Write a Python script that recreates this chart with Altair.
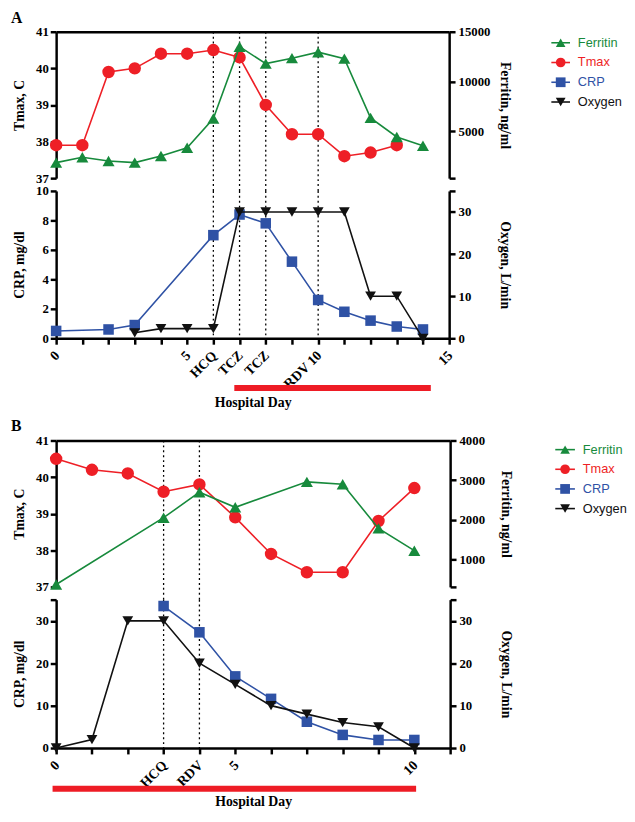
import altair as alt
import pandas as pd

# ---------------- Panel A data ----------------
A_TMAX_DAY = list(range(14))
A_TMAX = [37.9, 37.9, 39.9, 40.0, 40.4, 40.4, 40.5, 40.3, 39.0, 38.2, 38.2, 37.6, 37.7, 37.9]
A_FERR_DAY = list(range(15))
A_FERR = [1860, 2400, 2030, 1860, 2520, 3350, 6290, 13500, 11800, 12350, 12950, 12300, 6350, 4440, 3550]
A_CRP_DAY = [0, 2, 3, 6, 7, 8, 9, 10, 11, 12, 13, 14]
A_CRP = [0.5, 0.6, 0.9, 7.0, 8.4, 7.8, 5.2, 2.6, 1.8, 1.2, 0.8, 0.6]
A_OXY_DAY = list(range(3, 15))
A_OXY = [1.3, 2.3, 2.3, 2.3, 30, 30, 30, 30, 30, 10, 10, 0]
A_EVENTS = [6, 7, 8, 10]
A_HOSP = [6.8, 14.3]
A_XTICKS = list(range(16))
A_XLABEL_AT = [0, 5, 6, 7, 8, 10, 15]
A_XLABELS = ['0', '5', 'HCQ', 'TCZ', 'TCZ', 'RDV 10', '15']
A_FERR_DOMAIN = [300, 15000]
A_FERR_TICKS = [300, 5000, 10000, 15000]
A_FERR_HIDDEN = [300]
A_CRP_DOMAIN = [0, 10]
A_CRP_TICKS = [0, 2, 4, 6, 8, 10]
A_OXY_DOMAIN = [0, 35]
A_OXY_TICKS = [0, 10, 20, 30, 35]
A_OXY_HIDDEN = [35]

# ---------------- Panel B data ----------------
B_TMAX_DAY = list(range(11))
B_TMAX = [40.5, 40.2, 40.1, 39.6, 39.8, 38.9, 37.9, 37.4, 37.4, 38.8, 39.7]
B_FERR_DAY = [0, 3, 4, 5, 7, 8, 9, 10]
B_FERR = [380, 2060, 2700, 2320, 2960, 2900, 1790, 1230]
B_CRP_DAY = [3, 4, 5, 6, 7, 8, 9, 10]
B_CRP = [33.5, 27.3, 16.9, 11.6, 6.2, 3.1, 1.9, 1.9]
B_OXY_DAY = list(range(11))
B_OXY = [0, 2, 30, 30, 20, 15, 10, 8, 6, 5, 0]
B_EVENTS = [3, 4]
B_HOSP = [-0.1, 10.05]
B_XTICKS = list(range(12))
B_XLABEL_AT = [0, 3, 4, 5, 10]
B_XLABELS = ['0', 'HCQ', 'RDV', '5', '10']
B_FERR_DOMAIN = [320, 4000]
B_FERR_TICKS = [320, 1000, 2000, 3000, 4000]
B_FERR_HIDDEN = [320]
B_CRP_DOMAIN = [0, 35]
B_CRP_TICKS = [0, 10, 20, 30, 35]
B_CRP_HIDDEN = [35]
B_OXY_DOMAIN = [0, 35]
B_OXY_TICKS = [0, 10, 20, 30, 35]
B_OXY_HIDDEN = [35]

TMAX_DOMAIN = [37, 41]
TMAX_TICKS = [37, 38, 39, 40, 41]

SERIES = ['Ferritin', 'Tmax', 'CRP', 'Oxygen']
COLORS = ['#178a3c', '#ee1f26', '#2f52a5', '#111111']
SHAPES = ['triangle-up', 'circle', 'square', 'triangle-down']
LEGEND_SIZES = [95, 100, 80, 90]
RED_BAR = '#ee1c25'
SERIF = 'Liberation Serif'
SANS = 'Liberation Sans'

CSCALE = alt.Scale(domain=SERIES, range=COLORS)
SSCALE = alt.Scale(domain=SERIES, range=SHAPES)
ZSCALE = alt.Scale(domain=SERIES, range=LEGEND_SIZES)
GAP = 13


def hidden_expr(hidden):
    if not hidden:
        return "datum.label"
    arr = ",".join(str(v) for v in hidden)
    return f"indexof([{arr}], datum.value) >= 0 ? '' : datum.label"


def label_expr(ats, texts):
    expr = "''"
    for v, t in zip(reversed(ats), reversed(texts)):
        expr = f"datum.value == {v} ? '{t}' : ({expr})"
    return expr


def y_axis(orient, title, values, hidden, title_x):
    return alt.Axis(orient=orient, title=title, values=values, format='d',
                    labelExpr=hidden_expr(hidden), titleX=title_x, titleBaseline='middle',
                    titleAngle=270 if orient == 'left' else 90,
                    labelPadding=2 if orient == 'left' else 3)


def series_df(days, vals, name):
    return pd.DataFrame({'day': days, 'value': vals, 'series': name})


def series_layers(df, xenc, yenc, shape, size):
    color = alt.Color('series:N', scale=CSCALE, legend=None)
    line = alt.Chart(df).mark_line(strokeWidth=1.6).encode(x=xenc, y=yenc, color=color)
    pts = alt.Chart(df).mark_point(filled=True, opacity=1, shape=shape, size=size).encode(
        x=xenc, y=yenc, color=color)
    return alt.layer(line, pts)


def legend_layers(x0, x1, tx, y_range):
    df = pd.DataFrame({'series': SERIES})
    ly = alt.Y('series:N', scale=alt.Scale(type='point', domain=SERIES, range=y_range, padding=0),
               axis=None)
    color = alt.Color('series:N', scale=CSCALE, legend=None)
    line = alt.Chart(df).mark_rule(strokeWidth=1.6).encode(
        x=alt.value(x0), x2=alt.value(x1), y=ly, color=color)
    pts = alt.Chart(df).mark_point(filled=True, opacity=1).encode(
        x=alt.value((x0 + x1) / 2), y=ly, color=color,
        shape=alt.Shape('series:N', scale=SSCALE, legend=None),
        size=alt.Size('series:N', scale=ZSCALE, legend=None))
    txt = alt.Chart(df).mark_text(align='left', baseline='middle', font=SANS, fontSize=13).encode(
        x=alt.value(tx), y=ly, text='series:N', color=color)
    return alt.layer(line, pts, txt)


def panel_letter(letter, y):
    return alt.Chart(pd.DataFrame({'t': [letter]})).mark_text(
        align='left', baseline='alphabetic', font=SERIF, fontSize=16, fontWeight='bold',
        color='black').encode(x=alt.value(-46), y=alt.value(y), text='t:N')


def top_panel(letter, letter_y, tday, tmax, fday, ferr, fdom, fticks, fhidden, events, xdom,
              width, height, leg):
    xs = alt.Scale(domain=xdom, nice=False, zero=False)
    xaxis = alt.Axis(orient='top', labels=False, ticks=False, title=None, domain=True)
    xenc = alt.X('day:Q', scale=xs, axis=xaxis)
    # dotted event lines continue through the gap down into the lower panel
    rules = alt.Chart(pd.DataFrame({'day': events})).mark_rule(
        color='black', strokeDash=[2, 3], strokeWidth=1.3).encode(
        x=xenc, y=alt.value(0), y2=alt.value(height + GAP))
    tY = alt.Y('value:Q', scale=alt.Scale(domain=TMAX_DOMAIN, nice=False, zero=False),
               axis=y_axis('left', 'Tmax, C', TMAX_TICKS, [], -37.5))
    fY = alt.Y('value:Q', scale=alt.Scale(domain=fdom, nice=False, zero=False),
               axis=y_axis('right', 'Ferritin, ng/ml', fticks, fhidden, 56))
    f = series_layers(series_df(fday, ferr, 'Ferritin'), xenc, fY, 'triangle-up', 150)
    t = series_layers(series_df(tday, tmax, 'Tmax'), xenc, tY, 'circle', 160)
    return alt.layer(rules, t, f, leg, panel_letter(letter, letter_y)).resolve_scale(
        y='independent').properties(width=width, height=height)


def bottom_panel(cday, crp, cdom, cticks, chidden, oday, oxy, odom, oticks, ohidden,
                 events, hosp, xdom, xticks, xlab_at, xlabels, width, height, bar_y, title_y):
    xs = alt.Scale(domain=xdom, nice=False, zero=False)
    xaxis = alt.Axis(orient='bottom', values=xticks, labelExpr=label_expr(xlab_at, xlabels),
                     labelAngle=315, labelAlign='right', labelBaseline='middle',
                     labelFontSize=14, labelPadding=9, labelOffset=1, labelFlush=False,
                     labelOverlap=False, labelBound=False, title='Hospital Day',
                     titleY=title_y, titleBaseline='middle')
    xenc = alt.X('day:Q', scale=xs, axis=xaxis)
    rules = alt.Chart(pd.DataFrame({'day': events})).mark_rule(
        color='black', strokeDash=[2, 3], strokeWidth=1.3).encode(x=xenc)
    bar = alt.Chart(pd.DataFrame({'start': [hosp[0]], 'end': [hosp[1]]})).mark_rule(
        color=RED_BAR, strokeWidth=6, strokeCap='butt').encode(
        x=alt.X('start:Q', scale=xs, axis=xaxis), x2=alt.X2('end:Q'), y=alt.value(bar_y))
    cY = alt.Y('value:Q', scale=alt.Scale(domain=cdom, nice=False, zero=False),
               axis=y_axis('left', 'CRP, mg/dl', cticks, chidden, -37.5))
    oY = alt.Y('value:Q', scale=alt.Scale(domain=odom, nice=False, zero=False),
               axis=y_axis('right', 'Oxygen, L/min', oticks, ohidden, 56))
    c = series_layers(series_df(cday, crp, 'CRP'), xenc, cY, 'square', 115)
    o = series_layers(series_df(oday, oxy, 'Oxygen'), xenc, oY, 'triangle-down', 120)
    return alt.layer(rules, bar, c, o).resolve_scale(y='independent').properties(
        width=width, height=height)


a_top = top_panel('A', -9, A_TMAX_DAY, A_TMAX, A_FERR_DAY, A_FERR, A_FERR_DOMAIN, A_FERR_TICKS,
                  A_FERR_HIDDEN, A_EVENTS, [0, 15], 400, 149,
                  legend_layers(504, 523, 531, [11.2, 71.5]))
a_bot = bottom_panel(A_CRP_DAY, A_CRP, A_CRP_DOMAIN, A_CRP_TICKS, [], A_OXY_DAY, A_OXY,
                     A_OXY_DOMAIN, A_OXY_TICKS, A_OXY_HIDDEN, A_EVENTS, A_HOSP, [0, 15],
                     A_XTICKS, A_XLABEL_AT, A_XLABELS, 400, 150, 200.5, 65.5)
spacer = alt.Chart(pd.DataFrame({'v': [0]})).mark_point(opacity=0).encode(
    x=alt.value(0), y=alt.value(0)).properties(width=400, height=78)
b_top = top_panel('B', -10, B_TMAX_DAY, B_TMAX, B_FERR_DAY, B_FERR, B_FERR_DOMAIN, B_FERR_TICKS,
                  B_FERR_HIDDEN, B_EVENTS, [0, 11], 401, 149,
                  legend_layers(508, 528, 536, [9.3, 69.3]))
b_bot = bottom_panel(B_CRP_DAY, B_CRP, B_CRP_DOMAIN, B_CRP_TICKS, B_CRP_HIDDEN, B_OXY_DAY,
                     B_OXY, B_OXY_DOMAIN, B_OXY_TICKS, B_OXY_HIDDEN, B_EVENTS, B_HOSP,
                     [0, 11], B_XTICKS, B_XLABEL_AT, B_XLABELS, 401, 151, 192.5, 54.5)

chart = alt.vconcat(a_top, a_bot, spacer, b_top, b_bot, spacing=GAP, bounds='flush').properties(
    padding={'top': -5, 'left': 3, 'right': 0, 'bottom': 0}).configure_view(
    stroke=None).configure_axis(
    domainColor='black', domainWidth=2.5, tickColor='black', tickWidth=2.5, tickSize=6,
    labelFont=SERIF, labelFontSize=13, labelFontWeight='bold', labelColor='black',
    titleFont=SERIF, titleFontSize=14, titleFontWeight='bold', titleColor='black', grid=False)

chart.save("out.html", embed_options={"renderer": "svg", "actions": False})
